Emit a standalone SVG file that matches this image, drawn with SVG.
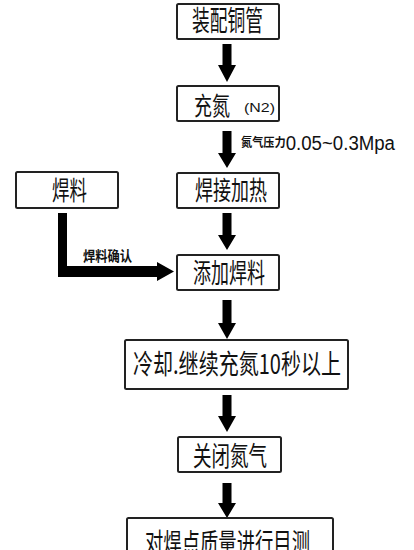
<svg xmlns="http://www.w3.org/2000/svg" width="414" height="550" viewBox="0 0 414 550">
<style>
.box{fill:#fff;stroke:#222;stroke-width:2}
.t{font-family:"Noto Sans CJK SC","Noto Sans",sans-serif;fill:#111}
.lat{font-family:"Liberation Sans",Arial,sans-serif;fill:#111}
.arr{fill:#000}
</style>
<rect width="414" height="550" fill="#fff"/>
<g id="connectors">
<path class="arr" d="M222.5,44 h9 v21 h4.5 l-9,17 l-9,-17 h4.5 z"/>
<path class="arr" d="M222.5,131 h9 v22 h4.5 l-9,15 l-9,-15 h4.5 z"/>
<path class="arr" d="M222.5,213 h9 v22 h4.5 l-9,15 l-9,-15 h4.5 z"/>
<path class="arr" d="M222.5,300 h9 v23 h4.5 l-9,16 l-9,-16 h4.5 z"/>
<path class="arr" d="M222.5,395 h9 v21 h4.5 l-9,16 l-9,-16 h4.5 z"/>
<path class="arr" d="M222.5,483 h9 v20 h4.5 l-9,15 l-9,-15 h4.5 z"/>
<path class="arr" d="M58,213 h9 v53 h90 v-4 l17,9.5 l-17,9.5 v-4 h-99 z"/>
<text class="t" x="241" y="150" font-size="20" textLength="154" lengthAdjust="spacingAndGlyphs"><tspan font-size="12" font-weight="bold" dy="-3.5">氮气压力</tspan><tspan font-family="Liberation Sans, Arial, sans-serif" dy="3.5">0.05~0.3Mpa</tspan></text>
<text class="t" x="83" y="261" font-size="14" font-weight="bold" textLength="49" lengthAdjust="spacingAndGlyphs">焊料确认</text>
</g>
<g id="n1">
<rect class="box" x="177" y="4" width="102" height="35" rx="1.5"/>
<text class="t" x="192" y="31" font-size="28" textLength="71" lengthAdjust="spacingAndGlyphs">装配铜管</text>
</g>
<g id="n2">
<rect class="box" x="177" y="86" width="102" height="35" rx="1.5"/>
<text class="t" x="194" y="115" font-size="25" textLength="36" lengthAdjust="spacingAndGlyphs">充氮</text>
<text class="lat" x="244" y="112" font-size="13" textLength="31" lengthAdjust="spacingAndGlyphs">(N2)</text>
</g>
<g id="n3">
<rect class="box" x="16" y="172" width="102" height="36" rx="1.5"/>
<text class="t" x="52" y="200" font-size="26" textLength="35" lengthAdjust="spacingAndGlyphs">焊料</text>
</g>
<g id="n4">
<rect class="box" x="177" y="173" width="102" height="35" rx="1.5"/>
<text class="t" x="195" y="200" font-size="26" textLength="72" lengthAdjust="spacingAndGlyphs">焊接加热</text>
</g>
<g id="n5">
<rect class="box" x="177" y="255" width="102" height="35" rx="1.5"/>
<text class="t" x="193" y="283" font-size="27" textLength="72" lengthAdjust="spacingAndGlyphs">添加焊料</text>
</g>
<g id="n6">
<rect class="box" x="125" y="340" width="223" height="49" rx="1.5"/>
<text class="t" x="133" y="374" font-size="27" textLength="208" lengthAdjust="spacingAndGlyphs">冷却.继续充氮10秒以上</text>
</g>
<g id="n7">
<rect class="box" x="178" y="437" width="103" height="35" rx="1.5"/>
<text class="t" x="193" y="466" font-size="27" textLength="74" lengthAdjust="spacingAndGlyphs">关闭氮气</text>
</g>
<g id="n8">
<rect class="box" x="127" y="518" width="206" height="45" rx="1.5"/>
<text class="t" x="145" y="553" font-size="27" textLength="165" lengthAdjust="spacingAndGlyphs">对焊点质量进行目测</text>
</g>
</svg>
